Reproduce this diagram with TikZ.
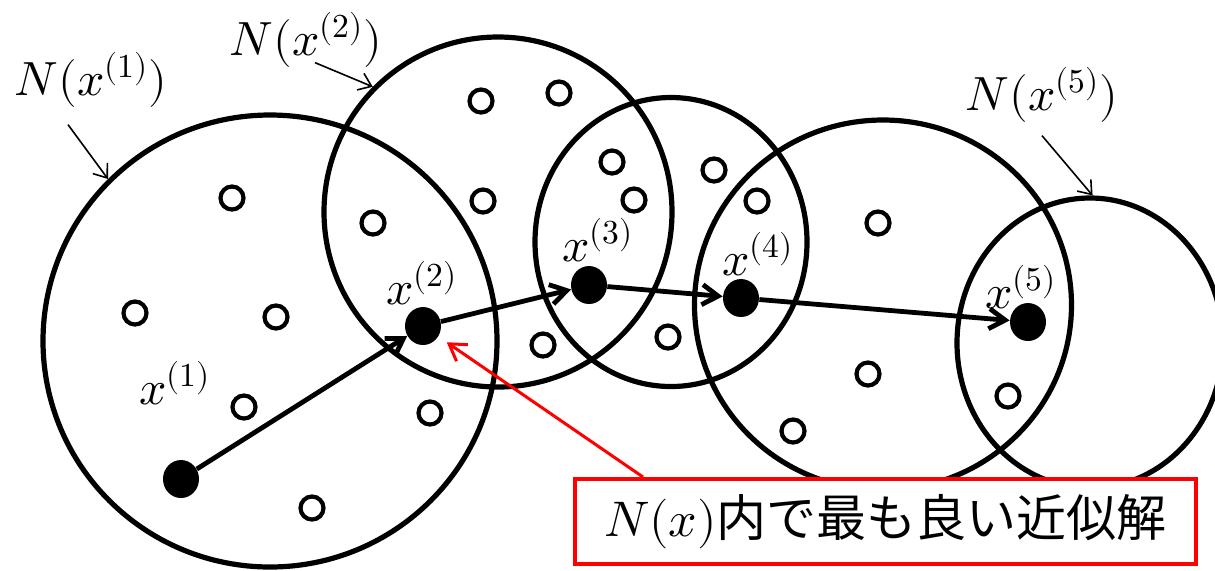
\documentclass[tikz,border=0pt]{standalone}
\usepackage{fontspec}
\usepackage{unicode-math}
\setmathfont{Latin Modern Math}
\newfontfamily\jpfont{Noto Sans CJK JP}
\usetikzlibrary{arrows.meta, shapes.geometric, positioning}

\tikzset{
    nbhd/.style={draw, ellipse, line width=2.6pt, inner sep=0pt},
    cand/.style={draw, circle, line width=2.1pt, minimum size=11.5pt, inner sep=0pt},
    iter/.style={fill, ellipse, minimum width=18pt, minimum height=19pt, inner sep=0pt},
    move/.style={line width=2.4pt, -{Straight Barb[length=8pt,width=10pt]}},
    pointer/.style={line width=0.8pt, -{Straight Barb[length=6pt,width=9pt]}},
    lbl/.style={inner sep=0pt, font=\fontsize{24}{28}\selectfont},
}

\begin{document}
\begin{tikzpicture}[x=0.5pt, y=-0.5pt]
    \useasboundingbox (0,0) rectangle (1215,570);

    % Neighbourhoods N(x^(k))
    \node[nbhd, minimum width=227pt, minimum height=226pt] (e1) at (270,341) {};
    \node[nbhd, minimum width=174pt, minimum height=175pt] (e2) at (498,212) {};
    \node[nbhd, minimum width=136pt, minimum height=144.5pt] (e3) at (671,242) {};
    \node[nbhd, minimum width=188.5pt, minimum height=185pt] (e4) at (883,305) {};
    \node[nbhd, minimum width=133pt, minimum height=145pt] (e5) at (1090,343) {};

    % Candidate solutions
    \foreach \px/\py [count=\i] in {232/198, 135/313, 276/317, 244/407, 312/508,
        430/413, 373/223, 481/101, 559/93, 483/201, 612/162, 634/200, 714/170,
        757/201, 878/223, 543/345, 668/337, 868/374, 793/431, 1008/396}
        \node[cand] (c\i) at (\px,\py) {};

    % Iterates
    \node[iter] (x1) at (181,479) {};
    \node[iter] (x2) at (423,326) {};
    \node[iter] (x3) at (589,285) {};
    \node[iter] (x4) at (741,298) {};
    \node[iter] (x5) at (1028,322) {};

    % Moves
    \draw[move] (x1) -- (x2);
    \draw[move] (x2) -- (x3);
    \draw[move] (x3) -- (x4);
    \draw[move] (x4) -- (x5);

    % Iterate labels
    \node[lbl] (l1) at (175,383) {$x^{(1)}$};
    \node[lbl] (l2) at (422,283) {$x^{(2)}$};
    \node[lbl] (l3) at (598,240) {$x^{(3)}$};
    \node[lbl] (l4) at (758,254) {$x^{(4)}$};
    \node[lbl] (l5) at (1021,287) {$x^{(5)}$};

    % Neighbourhood labels
    \node[lbl] (n1) at (91,80) {$N(x^{(1)})$};
    \node[lbl] (n2) at (306,40) {$N(x^{(2)})$};
    \node[lbl] (n5) at (1042,95) {$N(x^{(5)})$};
    \draw[pointer] ([xshift=-11.5pt,yshift=-8.5pt]n1.south) -- (e1.135);
    \draw[pointer] ([xshift=4.5pt,yshift=2.5pt]n2.south) -- (e2.135);
    \draw[pointer] ([yshift=-6.5pt]n5.south) -- (e5.89);

    % Best approximate solution in N(x)
    \node[draw=red, line width=2pt, fill=white, minimum width=310.5pt,
        minimum height=42.5pt, inner sep=0pt, font=\fontsize{25}{30}\selectfont]
        (best) at (885.5,521.5) {$N(x)$\jpfont 内で最も良い近似解};
    \draw[red, line width=1.5pt, -{Straight Barb[length=8pt,width=10pt]},
        shorten >=5pt] ([xshift=35pt]best.north west) -- (x2);
\end{tikzpicture}
\end{document}
